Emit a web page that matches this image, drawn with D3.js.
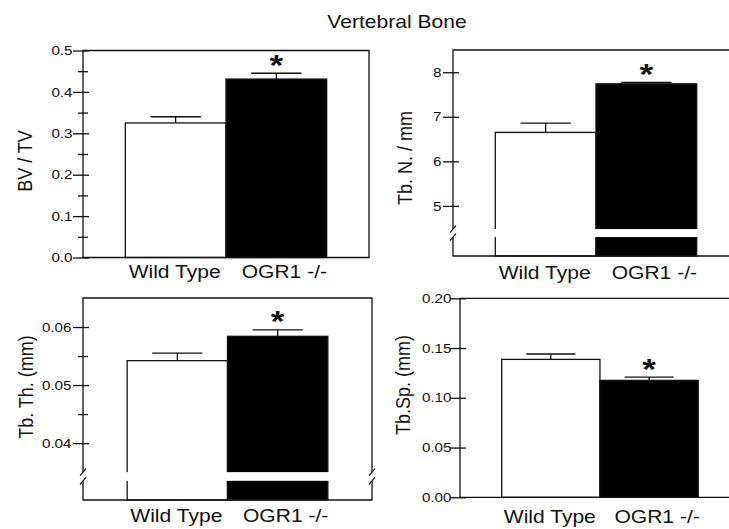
<!DOCTYPE html>
<html>
<head>
<meta charset="utf-8">
<script src="https://cdn.jsdelivr.net/npm/d3@7"></script>
<style>
  html, body { margin: 0; padding: 0; background: #fff; }
  text { font-family: "Liberation Sans", Arial, sans-serif; fill: #111; }
</style>
</head>
<body>
<script>
// Vertebral bone histomorphometry, WT vs OGR1 -/- (mean + SEM)
var categories = ["Wild Type", "OGR1 -/-"];
var significant = [false, true];

var bvtvMean = [0.325, 0.431];
var bvtvSem = [0.015, 0.014];
var bvtvTicks = [0.0, 0.1, 0.2, 0.3, 0.4, 0.5];
var bvtvMinor = [0.05, 0.15, 0.25, 0.35, 0.45];

var tbnMean = [6.65, 7.74];
var tbnSem = [0.21, 0.03];
var tbnTicks = [5, 6, 7, 8];

var tbthMean = [0.0542, 0.0584];
var tbthSem = [0.0013, 0.0011];
var tbthTicks = [0.04, 0.05, 0.06];
var tbthMinor = [0.045, 0.055];

var tbspMean = [0.1386, 0.1175];
var tbspSem = [0.0054, 0.0033];
var tbspTicks = [0.00, 0.05, 0.10, 0.15, 0.20];

var SX = 1.17; // the source picture is stretched horizontally
var ink = "#111";

var svg = d3.select("body").append("svg")
    .attr("width", 729)
    .attr("height", 529);

svg.append("text")
    .attr("transform", "translate(397,28) scale(" + SX + ",1)")
    .attr("text-anchor", "middle")
    .attr("font-size", "18px")
    .text("Vertebral Bone");

var panels = [
    { title: "BV / TV", mean: bvtvMean, sem: bvtvSem, ticks: bvtvTicks, minor: bvtvMinor, fmt: ".1f",
      domain: [0, 0.5], brk: null,
      x: 83, y: 50.5, w: 286, h: 207, pad: 0.42, align: 0.5, labelGap: 10.5, labelDy: 20.5,
      titleX: 32, titleY: 161 },
    { title: "Tb. N. / mm", mean: tbnMean, sem: tbnSem, ticks: tbnTicks, minor: [], fmt: "d",
      domain: [3.875, 8.5], brk: [4.30, 4.48],
      x: 453, y: 50, w: 286, h: 206, pad: 0.42, align: 0.5, labelGap: 11.5, labelDy: 23,
      titleX: 412, titleY: 158 },
    { title: "Tb. Th. (mm)", mean: tbthMean, sem: tbthSem, ticks: tbthTicks, minor: tbthMinor, fmt: ".2f",
      domain: [0.0302, 0.065], brk: [0.0335, 0.0350],
      x: 83, y: 298, w: 289, h: 202, pad: 0.44, align: 0.5, labelGap: 11.5, labelDy: 21.5,
      titleX: 33, titleY: 387 },
    { title: "Tb.Sp. (mm)", mean: tbspMean, sem: tbspSem, ticks: tbspTicks, minor: [], fmt: ".2f",
      domain: [0, 0.2], brk: null,
      x: 460, y: 298.3, w: 286, h: 199, pad: 0.455, align: 0.466, labelGap: 8.5, labelDy: 25.5,
      titleX: 410, titleY: 385 }
];

function crossTicks(sel, outward, inward) {
    sel.selectAll(".tick line")
        .attr("x1", inward)
        .attr("x2", -outward)
        .attr("stroke", ink)
        .attr("stroke-width", 1.3);
}

function drawPanel(p) {
    var g = svg.append("g");
    var x = d3.scaleBand().domain(categories)
        .range([p.x, p.x + p.w])
        .paddingInner(0)
        .paddingOuter(p.pad)
        .align(p.align);
    var y = d3.scaleLinear().domain(p.domain).range([p.y + p.h, p.y]);
    var bw = x.bandwidth();
    var base = p.domain[0];
    var top = p.y, bottom = p.y + p.h;

    var rows = categories.map(function (c, i) {
        return { cat: c, mean: p.mean[i], sem: p.sem[i], sig: significant[i], i: i };
    });

    // error bars (drawn first, bars cover the lower half)
    g.selectAll(".err").data(rows).enter().append("line")
        .attr("x1", function (d) { return x(d.cat) + bw / 2; })
        .attr("x2", function (d) { return x(d.cat) + bw / 2; })
        .attr("y1", function (d) { return y(d.mean); })
        .attr("y2", function (d) { return y(d.mean + d.sem); })
        .attr("stroke", ink).attr("stroke-width", 1.3);
    g.selectAll(".cap").data(rows).enter().append("line")
        .attr("x1", function (d) { return x(d.cat) + bw / 4; })
        .attr("x2", function (d) { return x(d.cat) + bw * 3 / 4; })
        .attr("y1", function (d) { return y(d.mean + d.sem); })
        .attr("y2", function (d) { return y(d.mean + d.sem); })
        .attr("stroke", ink).attr("stroke-width", 1.3);

    // bars
    g.selectAll(".bar").data(rows).enter().append("rect")
        .attr("x", function (d) { return x(d.cat); })
        .attr("y", function (d) { return y(d.mean); })
        .attr("width", bw)
        .attr("height", function (d) { return y(base) - y(d.mean); })
        .attr("fill", function (d) { return d.i === 0 ? "#fff" : "#000"; })
        .attr("stroke", ink)
        .attr("stroke-width", 1.3);

    // axis break gap through the bars
    var gTop, gBot;
    if (p.brk) {
        gTop = y(p.brk[1]);
        gBot = y(p.brk[0]);
        g.append("rect")
            .attr("x", x(categories[0]) - 1.5)
            .attr("y", gTop)
            .attr("width", bw * 2 + 3)
            .attr("height", gBot - gTop)
            .attr("fill", "#fff");
    }

    // frame
    var L = p.x, R = p.x + p.w;
    var path;
    if (p.brk) {
        path = "M" + L + "," + gTop + "V" + top + "H" + R + "V" + gTop +
               "M" + R + "," + gBot + "V" + bottom + "H" + L + "V" + gBot;
    } else {
        path = "M" + L + "," + top + "H" + R + "V" + bottom + "H" + L + "Z";
    }
    g.append("path").attr("d", path)
        .attr("fill", "none").attr("stroke", ink).attr("stroke-width", 1.3);
    if (p.brk) {
        [L, R].forEach(function (ax) {
            [gTop, gBot].forEach(function (ey) {
                g.append("line")
                    .attr("x1", ax - 3).attr("y1", ey + 3.5)
                    .attr("x2", ax + 3).attr("y2", ey - 3.5)
                    .attr("stroke", ink).attr("stroke-width", 1.2);
            });
        });
    }

    // y axis: major ticks with labels
    var axis = g.append("g")
        .attr("transform", "translate(" + L + ",0)")
        .call(d3.axisLeft(y).tickValues(p.ticks).tickFormat(d3.format(p.fmt)));
    axis.select(".domain").remove();
    crossTicks(axis, 10, 6);
    axis.selectAll(".tick text")
        .attr("x", -p.labelGap / SX)
        .attr("transform", "scale(" + SX + ",1)")
        .attr("fill", ink)
        .attr("font-size", "13px")
        .attr("font-family", "Liberation Sans, Arial, sans-serif");

    if (p.minor.length) {
        var minorAxis = g.append("g")
            .attr("transform", "translate(" + L + ",0)")
            .call(d3.axisLeft(y).tickValues(p.minor).tickFormat(""));
        minorAxis.select(".domain").remove();
        crossTicks(minorAxis, 5, 5);
    }

    // category labels
    g.selectAll(".xlab").data(rows).enter().append("text")
        .attr("transform", function (d) {
            var cx = x(d.cat) + bw / 2 + (d.i === 1 ? 8 : -1);
            return "translate(" + cx + "," + (bottom + p.labelDy) + ") scale(" + SX + ",1)";
        })
        .attr("text-anchor", "middle")
        .attr("font-size", "18px")
        .text(function (d) { return d.cat; });

    // significance marks
    g.selectAll(".star").data(rows.filter(function (d) { return d.sig; })).enter().append("text")
        .attr("transform", function (d) {
            return "translate(" + (x(d.cat) + bw / 2) + "," + (y(d.mean + d.sem) + 1.5) + ") scale(" + SX + ",1)";
        })
        .attr("text-anchor", "middle")
        .attr("font-size", "30px")
        .attr("font-weight", "bold")
        .text("*");

    // y title
    g.append("text")
        .attr("transform", "translate(" + p.titleX + "," + p.titleY + ") rotate(-90) scale(1," + SX + ")")
        .attr("text-anchor", "middle")
        .attr("font-size", "18px")
        .text(p.title);
}

panels.forEach(drawPanel);
</script>
</body>
</html>
